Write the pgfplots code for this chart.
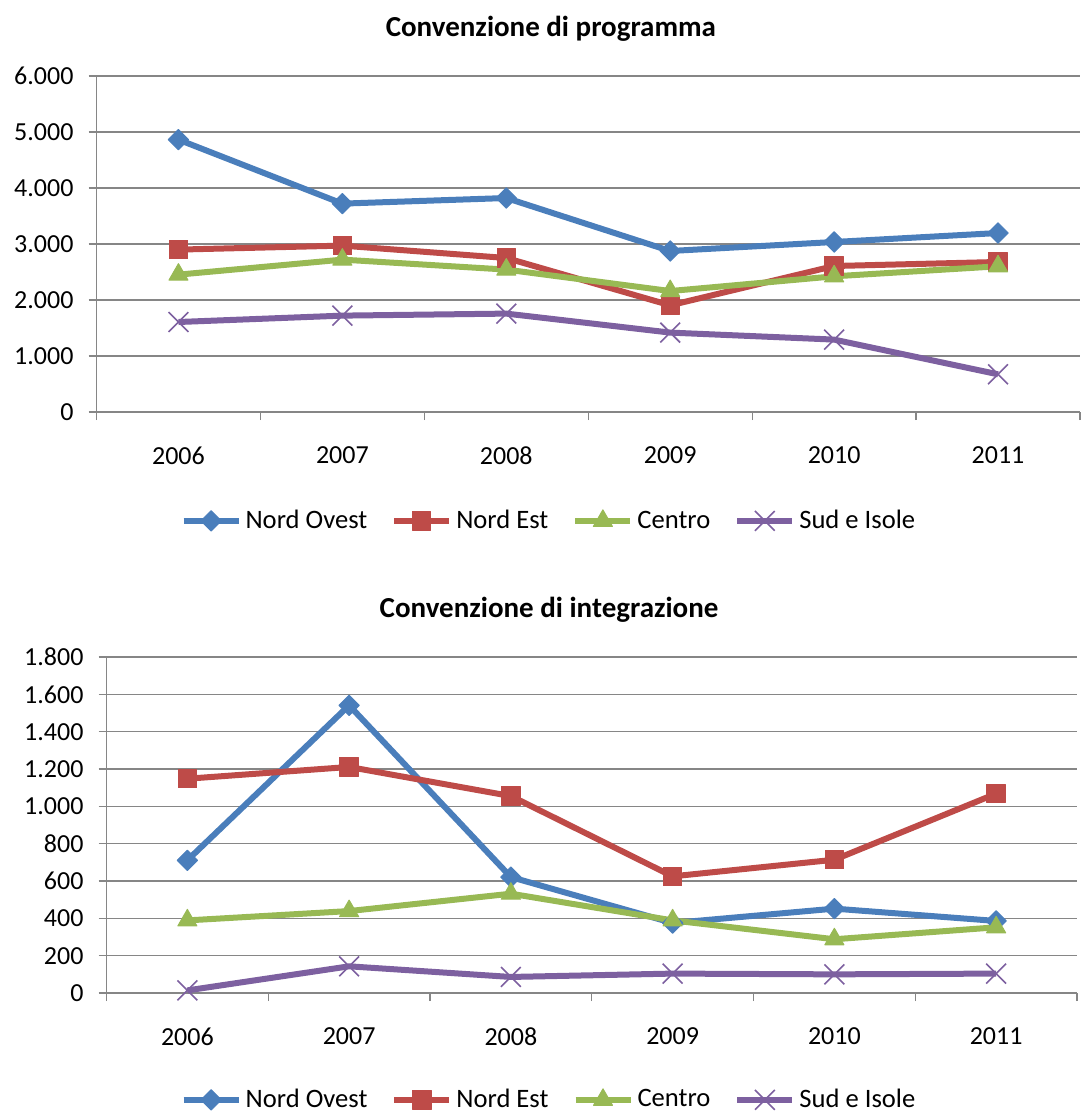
\documentclass[border=0pt]{standalone}
\usepackage{fontspec}
\setmainfont{Carlito}
\usepackage{pgfplots}
\usepackage{pgfplotstable}
\pgfplotsset{compat=1.18}

\definecolor{cNO}{HTML}{4A7EBB}
\definecolor{cNE}{HTML}{BE4B48}
\definecolor{cC}{HTML}{98B954}
\definecolor{cS}{HTML}{7D60A0}
\definecolor{gridgray}{HTML}{868686}

% anni 2006-2011 -> 0..5
\pgfplotstableread{
x NO NE C S
0 4864 2900 2453 1607
1 3721 2971 2721 1721
2 3821 2750 2543 1757
3 2875 1905 2160 1418
4 3036 2607 2423 1293
5 3196 2679 2602 673
}\programma

\pgfplotstableread{
x NO NE C S
0 711 1148 389 14
1 1541 1211 439 143
2 621 1055 532 86
3 375 625 389 104
4 452 714 288 100
5 386 1068 352 104
}\integrazione

\pgfplotsset{
  xl/.style={
    scale only axis, height=168pt,
    xmin=-0.5, xmax=5.5, ymin=0,
    axis lines=left,
    axis line style={-, draw=gridgray, line width=0.6pt},
    ymajorgrids, grid style={draw=gridgray, line width=0.6pt},
    xtick={-0.5,0.5,...,5.5}, xticklabels={},
    extra x ticks={0,...,5},
    extra x tick labels={2006,2007,2008,2009,2010,2011},
    extra x tick style={major tick length=0pt},
    tick align=outside,
    major tick length=4pt,
    tick style={draw=gridgray, line width=0.6pt},
    scaled y ticks=false,
    /pgf/number format/.cd, fixed, precision=0, 1000 sep={.}, assume math mode=true, /pgfplots/.cd,
    ticklabel style={font=\fontsize{13}{15}\selectfont},
    xticklabel style={yshift=-14pt},
    yticklabel style={xshift=-4pt},
    title style={font=\fontsize{14.5}{17}\selectfont\bfseries, anchor=center},
    legend columns=-1,
    legend style={draw=none, anchor=center, font=\fontsize{13.3}{16}\selectfont,
      /tikz/every even column/.append style={column sep=10pt}},
    legend image code/.code={\draw[mark repeat=2, mark phase=2, #1]
      plot coordinates {(0pt,0pt) (13.75pt,0pt) (27.5pt,0pt)};},
  },
  sNO/.style={color=cNO, line width=3pt, line join=round, mark=square*, mark size=3.6pt,
    mark options={rotate=45, line width=0.5pt, solid}},
  sNE/.style={color=cNE, line width=3pt, line join=round, mark=square*, mark size=4.6pt,
    mark options={line width=0.5pt, solid}},
  sC/.style={color=cC, line width=3pt, line join=round, mark=triangle*, mark size=5.5pt,
    mark options={line width=0.5pt, solid}},
  sS/.style={color=cS, line width=3pt, line join=round, mark=x, mark size=7pt,
    mark options={line width=0.8pt, solid}},
}

\begin{document}
\begin{tikzpicture}
\useasboundingbox (0,0) rectangle (540.5pt,-556.5pt);

\begin{axis}[xl, width=491.75pt, at={(48.25pt,-206pt)}, anchor=south west,
    ymax=6000, ytick={0,1000,...,6000},
    title={Convenzione di programma},
    title style={at={(rel axis cs:0.462,1)}, yshift=17.5pt},
    legend style={at={(0.461,-0.324)}}]
  \addplot[sNO] table[x=x, y=NO] {\programma};
  \addplot[sNE] table[x=x, y=NE] {\programma};
  \addplot[sC] table[x=x, y=C] {\programma};
  \addplot[sS] table[x=x, y=S] {\programma};
  \legend{Nord Ovest, Nord Est, Centro, Sud e Isole}
\end{axis}

\begin{axis}[xl, width=485.25pt, at={(53.25pt,-496.5pt)}, anchor=south west,
    ymax=1800, ytick={0,200,...,1800},
    title={Convenzione di integrazione},
    title style={at={(rel axis cs:0.456,1)}, yshift=17.5pt},
    legend style={at={(0.457,-0.318)}}]
  \addplot[sNO] table[x=x, y=NO] {\integrazione};
  \addplot[sNE] table[x=x, y=NE] {\integrazione};
  \addplot[sC] table[x=x, y=C] {\integrazione};
  \addplot[sS] table[x=x, y=S] {\integrazione};
  \legend{Nord Ovest, Nord Est, Centro, Sud e Isole}
\end{axis}
\end{tikzpicture}
\end{document}
